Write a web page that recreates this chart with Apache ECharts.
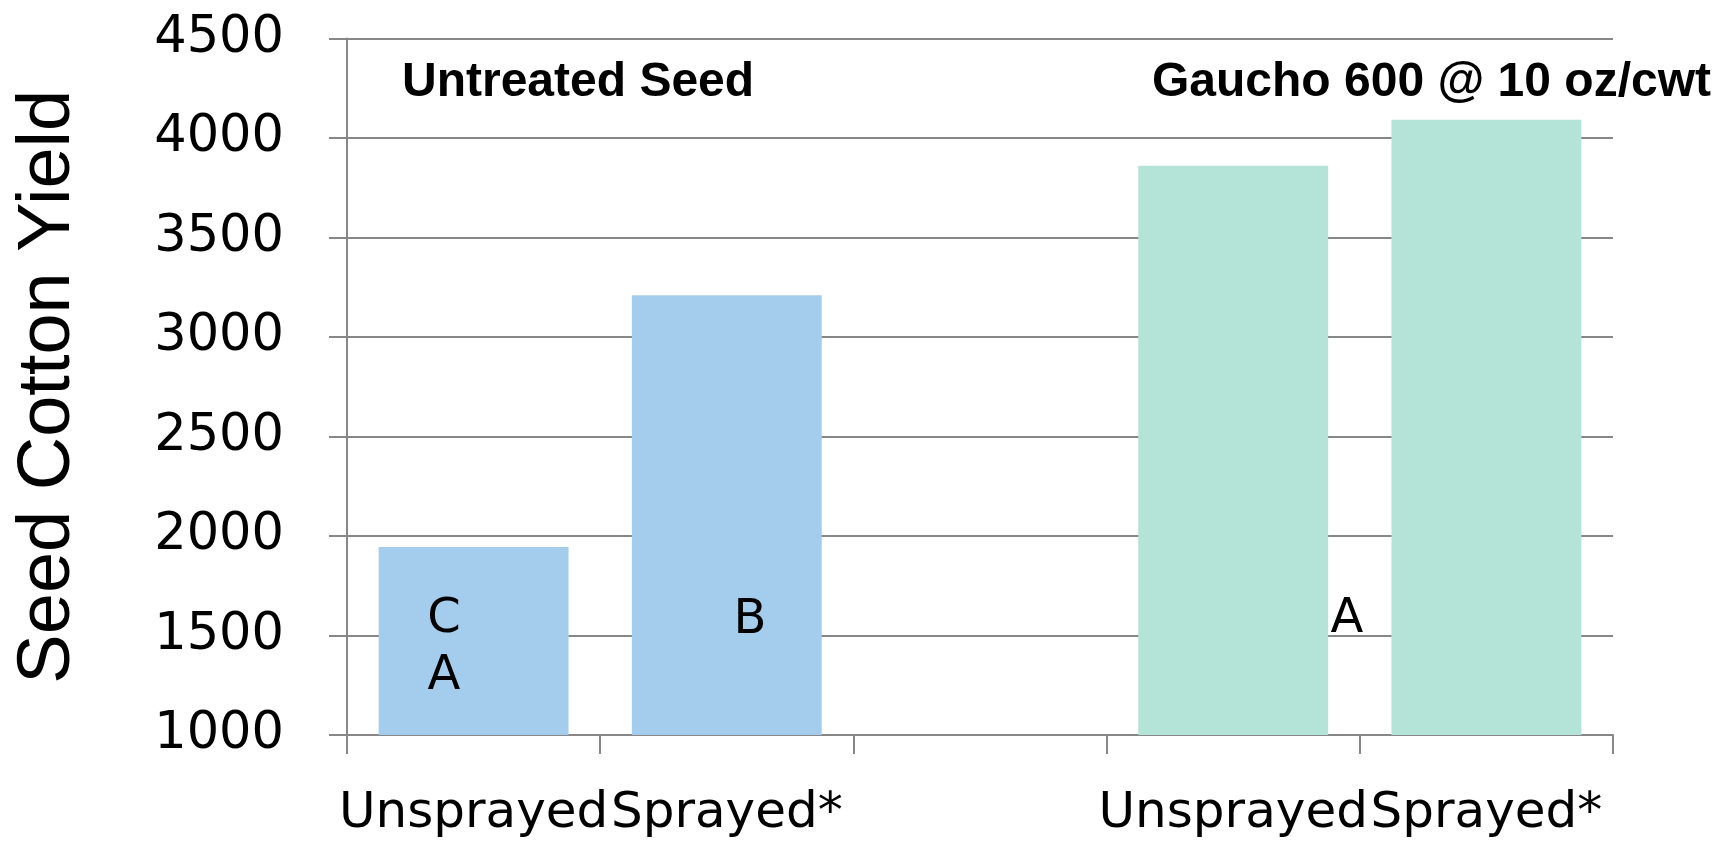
<!DOCTYPE html>
<html lang="en">
<head>
	<meta charset="UTF-8">
	<title>Seed Cotton Yield</title>
	<style type="text/css">
	body,html{
		width: 100%;
		height: 100%;
		margin: 0;
		padding: 0;
		background: #fff;
	}
	#container{
		width: 1720px;
		height: 843px;
	}
	</style>
</head>
<body>
	<div id="container"></div>
<script type="text/javascript" src="https://cdn.jsdelivr.net/npm/echarts@6/dist/echarts.min.js"></script>
<script type="text/javascript">
	var categories = ['Unsprayed', 'Sprayed*', '', 'Unsprayed', 'Sprayed*'];
	var untreatedYield = [1945, 3210, '-', '-', '-'];
	var gauchoYield = ['-', '-', '-', 3860, 4092];
	var yTicks = [1000, 4500, 500]; // min, max, interval
	var groupTitles = ['Untreated Seed', 'Gaucho 600 @ 10 oz/cwt'];
	var sigLetters = ['C', 'A', 'B', 'A'];

	var gridColor = '#878787';
	var tickFont = 'DejaVu Sans';

	function letter(txt, x, y) {
		return {
			type : 'text', x : x, y : y, z : 100,
			style : { text : txt, font : '48px "DejaVu Sans"', fill : '#000', align : 'center', verticalAlign : 'top' }
		};
	}

	var option = {
		backgroundColor : '#fff',
		animation : false,
		grid : {
			left : 347,
			right : 107,
			top : 38.5,
			bottom : 108,
			containLabel : false,
			outerBoundsMode : 'none'
		},
		xAxis : {
			type : 'category',
			data : categories,
			axisLine : { lineStyle : { color : gridColor, width : 2 } },
			axisTick : { show : true, length : 19, inside : false, lineStyle : { color : gridColor, width : 2 } },
			axisLabel : {
				interval : 0,
				margin : 54,
				color : '#000',
				fontFamily : tickFont,
				fontSize : 50
			},
			splitLine : { show : false }
		},
		yAxis : {
			type : 'value',
			min : yTicks[0],
			max : yTicks[1],
			interval : yTicks[2],
			name : 'Seed Cotton Yield',
			nameLocation : 'middle',
			nameGap : 261,
			nameRotate : 90,
			nameTextStyle : {
				color : '#000',
				fontFamily : 'Liberation Sans',
				fontSize : 74
			},
			axisLine : { show : true, lineStyle : { color : gridColor, width : 2 } },
			axisTick : { show : true, length : 18, lineStyle : { color : gridColor, width : 2 } },
			axisLabel : {
				margin : 63,
				color : '#000',
				fontFamily : tickFont,
				fontSize : 51,
				padding : [0, 0, 12, 0],
				formatter : function (v) { return String(v); }
			},
			splitLine : { show : true, lineStyle : { color : gridColor, width : 2 } }
		},
		series : [{
			type : 'bar',
			name : groupTitles[0],
			data : untreatedYield,
			stack : 'y',
			barCategoryGap : '25%',
			itemStyle : { color : '#A4CDED' }
		}, {
			type : 'bar',
			name : groupTitles[1],
			data : gauchoYield,
			stack : 'y',
			barCategoryGap : '25%',
			itemStyle : { color : '#B4E3D7' }
		}],
		graphic : [
			{ type : 'text', left : 402, top : 59, z : 100, style : { text : groupTitles[0], font : 'bold 48px "Liberation Sans"', fill : '#000' } },
			{ type : 'text', left : 1152, top : 59, z : 100, style : { text : groupTitles[1], font : 'bold 48px "Liberation Sans"', fill : '#000' } },
			letter(sigLetters[0], 444, 596),
			letter(sigLetters[1], 444, 653),
			letter(sigLetters[2], 750, 597),
			letter(sigLetters[3], 1347, 596)
		]
	};
	var chart = echarts.init(document.getElementById('container'));
	chart.setOption(option, true);
</script>
</body>
</html>
